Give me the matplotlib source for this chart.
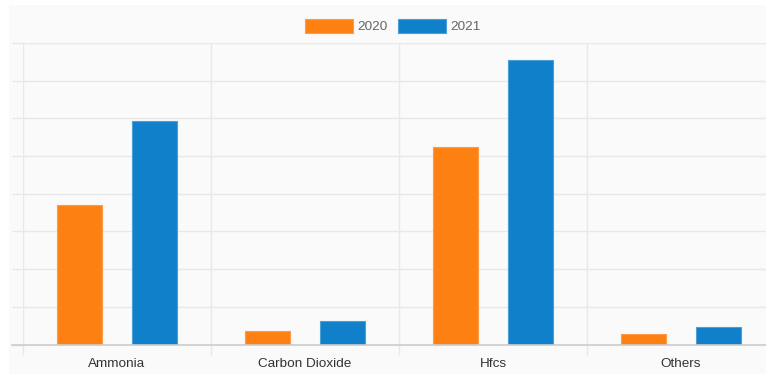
import matplotlib.pyplot as plt
import matplotlib.patches as mpatches
import numpy as np

plt.rcParams['font.family'] = ['Liberation Sans', 'DejaVu Sans']

categories = ['Ammonia', 'Carbon Dioxide', 'Hfcs', 'Others']
years = ['2020', '2021']
values_2020 = [3.71, 0.37, 5.24, 0.29]
values_2021 = [5.93, 0.62, 7.55, 0.47]

orange = '#fd8012'
blue = '#1180cb'
grid_c = '#e8e8e8'
base_c = '#cccccc'

fig = plt.figure(figsize=(7.66, 3.74), dpi=100, facecolor='white')
# light panel behind everything
fig.patches.append(mpatches.Rectangle((9/766, 0), 1, 1 - 5/374, transform=fig.transFigure,
                                      facecolor='#fafafa', edgecolor='none', zorder=-10))

ax = fig.add_axes([23/766, 29.5/374, 752/766, 301.5/374])
ax.patch.set_alpha(0)

x = np.arange(len(categories)) + 0.5
w = 0.239
ax.bar(x - 0.198, values_2020, w, color=orange, edgecolor='#ff9a45', linewidth=0.8, zorder=3)
ax.bar(x + 0.200, values_2021, w, color=blue, edgecolor='#4a9fd8', linewidth=0.8, zorder=3)

ax.set_xlim(0, 4)
ax.set_ylim(0, 8)
ax.set_yticks(np.arange(0, 9))
ax.set_yticklabels([])
ax.set_xticks(x)
ax.set_xticklabels(categories, color='#333333', fontsize=9.7)
ax.set_xticks(np.arange(0, 5), minor=True)

ax.tick_params(axis='x', which='major', length=0, pad=10)
ax.tick_params(axis='x', which='minor', length=7.5, width=1, color=grid_c, direction='out')
ax.tick_params(axis='y', length=8, width=1, color=grid_c, direction='out')

ax.grid(True, axis='y', color=grid_c, linewidth=1, zorder=0)
ax.grid(True, axis='x', which='minor', color=grid_c, linewidth=1, zorder=0)
for s in ax.spines.values():
    s.set_visible(False)
ax.axhline(0, xmin=-11/752, xmax=1, color=base_c, linewidth=1.2, clip_on=False, zorder=4)

handles = [mpatches.Patch(facecolor=orange, edgecolor='#ff9a45', linewidth=0.8),
           mpatches.Patch(facecolor=blue, edgecolor='#4a9fd8', linewidth=0.8)]
leg = fig.legend(handles, years, loc='center', bbox_to_anchor=(0.513, 0.930), ncol=2,
                 frameon=False, fontsize=9.7, handlelength=3.55, handleheight=1.18,
                 handletextpad=0.37, columnspacing=0.74, borderpad=0)
for t in leg.get_texts():
    t.set_color('#666666')

fig.savefig('out.png', dpi=100, facecolor='white')
